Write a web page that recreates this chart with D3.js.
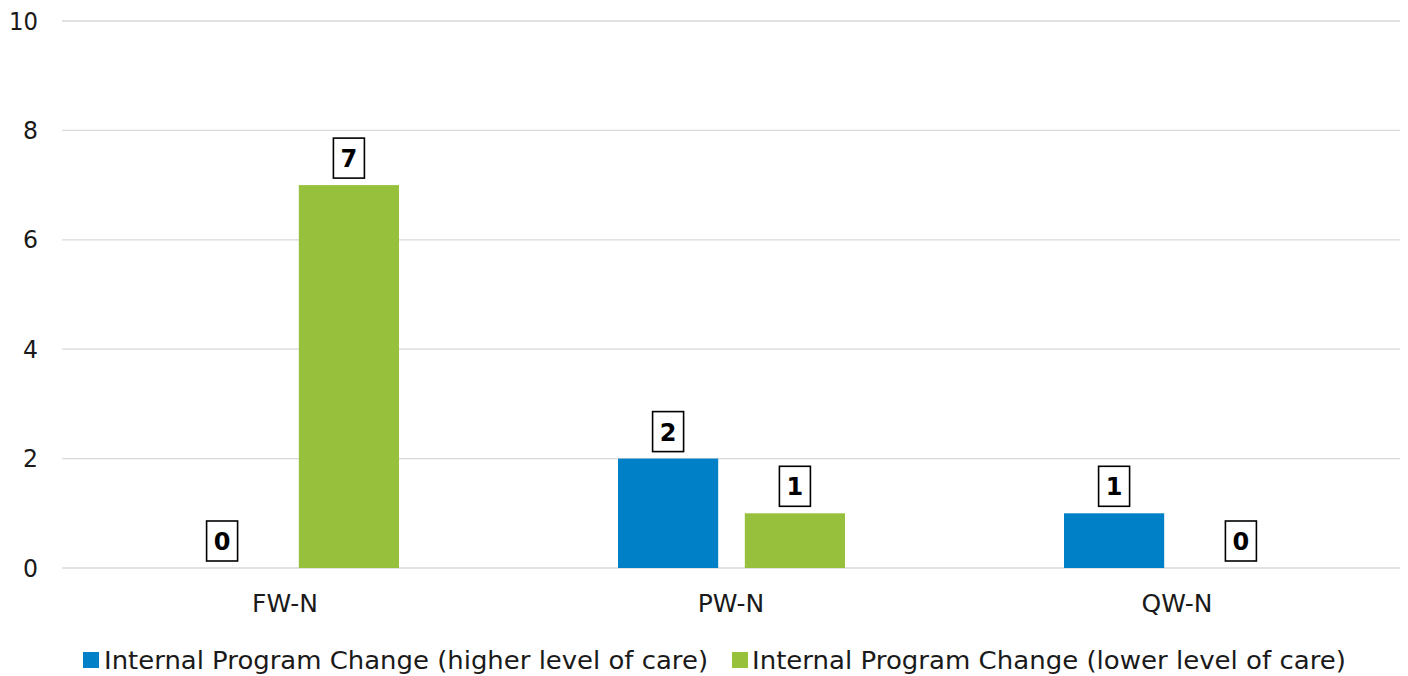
<!DOCTYPE html>
<html>
<head>
<meta charset="utf-8">
<script src="https://cdn.jsdelivr.net/npm/d3@7"></script>
<style>
  html, body { margin: 0; padding: 0; background: #fff; }
  svg { display: block; font-family: "DejaVu Sans", "Liberation Sans", sans-serif; }
</style>
</head>
<body>
<svg id="chart" width="1408" height="676"></svg>
<script>
// Chart data
const categories = ["FW-N", "PW-N", "QW-N"];
const seriesNames = [
  "Internal Program Change (higher level of care)",
  "Internal Program Change (lower level of care)"
];
const higherCare = [0, 2, 1];
const lowerCare = [7, 1, 0];
const yTicks = [0, 2, 4, 6, 8, 10];
const colors = ["#0080C6", "#97C13D"];

const svg = d3.select("#chart");
const margin = { left: 62, right: 8, top: 21, bottom: 108 };
const W = 1408, H = 676;

const x = d3.scaleBand().domain(categories).range([margin.left, W - margin.right]).paddingInner(0).paddingOuter(0);
const inner = d3.scaleBand().domain([0, 1]).range([110, x.bandwidth() - 109]).paddingInner(0.21);
const y = d3.scaleLinear().domain([0, 10]).range([H - margin.bottom, margin.top]);

// Gridlines
svg.append("g")
  .selectAll("line")
  .data(yTicks)
  .join("line")
  .attr("x1", margin.left)
  .attr("x2", W - margin.right)
  .attr("y1", d => y(d))
  .attr("y2", d => y(d))
  .attr("stroke", "#d9d9d9")
  .attr("stroke-width", 1.3);

// Y axis labels
const yAxis = d3.axisLeft(y).tickValues(yTicks).tickSize(0).tickPadding(0);
const gy = svg.append("g").attr("transform", "translate(38,0)").call(yAxis);
gy.select(".domain").remove();
gy.selectAll("text")
  .attr("font-size", 25)
  .attr("font-family", "DejaVu Sans, sans-serif")
  .attr("fill", "#1a1a1a")
  .attr("textLength", d => d >= 10 ? 29 : 15)
  .attr("lengthAdjust", "spacingAndGlyphs");

// X axis labels
const xAxis = d3.axisBottom(x).tickSize(0).tickPadding(0);
const gx = svg.append("g").attr("transform", `translate(0,${y(0) + 44})`).call(xAxis);
gx.select(".domain").remove();
gx.selectAll("text")
  .attr("dy", 0)
  .attr("font-size", 25)
  .attr("font-family", "DejaVu Sans, sans-serif")
  .attr("fill", "#1a1a1a");

// Bars
const series = [higherCare, lowerCare];
const flat = [];
categories.forEach((c, i) => {
  series.forEach((s, j) => flat.push({ cat: c, s: j, v: s[i] }));
});

const bars = svg.append("g");
bars.selectAll("rect")
  .data(flat)
  .join("rect")
  .attr("x", d => x(d.cat) + inner(d.s))
  .attr("width", inner.bandwidth())
  .attr("y", d => y(d.v))
  .attr("height", d => y(0) - y(d.v))
  .attr("fill", d => colors[d.s]);

// Value labels in boxes
const labels = svg.append("g");
flat.forEach(d => {
  const cx = x(d.cat) + inner(d.s) + inner.bandwidth() / 2;
  const bottom = y(d.v) - 7;
  const bw = 31, bh = 40;
  labels.append("rect")
    .attr("x", cx - bw / 2)
    .attr("y", bottom - bh)
    .attr("width", bw)
    .attr("height", bh)
    .attr("fill", "#fff")
    .attr("stroke", "#000")
    .attr("stroke-width", 1.6);
  labels.append("text")
    .attr("x", cx)
    .attr("y", bottom - bh / 2 + 9)
    .attr("text-anchor", "middle")
    .attr("font-size", 24)
    .attr("font-weight", "bold")
    .attr("font-family", "DejaVu Sans, sans-serif")
    .attr("fill", "#000")
    .text(d.v);
});

// Legend
const legend = svg.append("g");
const legendItems = [
  { name: seriesNames[0], color: colors[0], sx: 83, tx: 104, tw: 604 },
  { name: seriesNames[1], color: colors[1], sx: 732, tx: 752, tw: 594 }
];
legendItems.forEach(it => {
  legend.append("rect")
    .attr("x", it.sx).attr("y", 652).attr("width", 16).attr("height", 16)
    .attr("fill", it.color);
  legend.append("text")
    .attr("x", it.tx).attr("y", 669)
    .attr("font-size", 25)
    .attr("font-family", "DejaVu Sans, sans-serif")
    .attr("fill", "#1a1a1a")
    .attr("textLength", it.tw)
    .attr("lengthAdjust", "spacingAndGlyphs")
    .text(it.name);
});
</script>
</body>
</html>
